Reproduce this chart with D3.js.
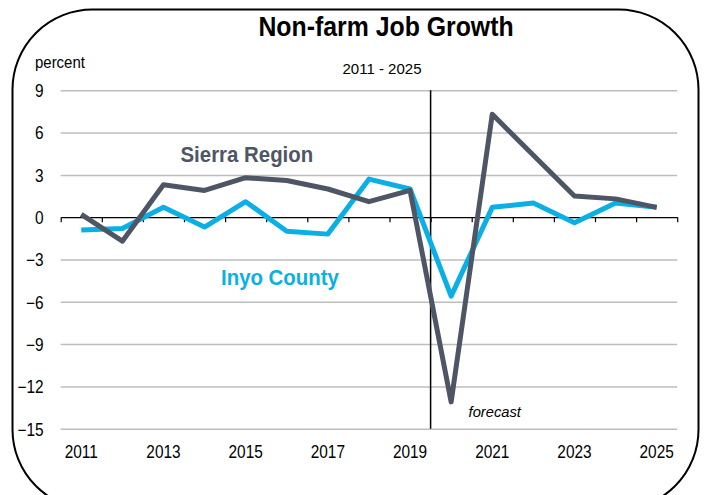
<!DOCTYPE html>
<html>
<head>
<meta charset="utf-8">
<script src="https://cdn.jsdelivr.net/npm/d3@7"></script>
<style>
  body { margin: 0; background: #fff; }
  svg { display: block; font-family: "Liberation Sans", Arial, sans-serif; }
</style>
</head>
<body>
<div id="chart"></div>
<script>
// data
var years = [2011, 2012, 2013, 2014, 2015, 2016, 2017, 2018, 2019, 2020, 2021, 2022, 2023, 2024, 2025];
var sierra = [0.2, -1.7, 2.3, 1.9, 2.8, 2.6, 2.0, 1.1, 1.9, -13.1, 7.3, 4.4, 1.5, 1.3, 0.7];
var inyo = [-0.9, -0.8, 0.7, -0.7, 1.1, -1.0, -1.2, 2.7, 2.0, -5.6, 0.7, 1.0, -0.4, 1.0, 0.7];
var yTicks = [9, 6, 3, 0, -3, -6, -9, -12, -15];
var xLabels = [2011, 2013, 2015, 2017, 2019, 2021, 2023, 2025];
var forecastFrom = 2020;

var W = 708, H = 495;
var margin = {top: 90.3, right: 30.8, bottom: 66.3, left: 60.7},
    width = W - margin.left - margin.right,
    height = H - margin.top - margin.bottom;

var svgRoot = d3.select("#chart")
  .append("svg")
    .attr("width", W)
    .attr("height", H);

// rounded frame
svgRoot.append("rect")
  .attr("x", 12.5)
  .attr("y", 9.5)
  .attr("width", 686)
  .attr("height", 500)
  .attr("rx", 80)
  .attr("ry", 80)
  .attr("fill", "none")
  .attr("stroke", "#000")
  .attr("stroke-width", 2);

// title + subtitle
svgRoot.append("text")
  .attr("transform", "translate(386,36) scale(0.92,1)")
  .attr("text-anchor", "middle")
  .style("font-size", "27px")
  .style("font-weight", "bold")
  .text("Non-farm Job Growth");

svgRoot.append("text")
  .attr("x", 382)
  .attr("y", 74)
  .attr("text-anchor", "middle")
  .style("font-size", "15px")
  .text("2011 - 2025");

svgRoot.append("text")
  .attr("transform", "translate(35,68) scale(0.88,1)")
  .style("font-size", "17px")
  .text("percent");

var svg = svgRoot.append("g")
  .attr("transform", "translate(" + margin.left + "," + margin.top + ")");

// scales
var x = d3.scaleBand()
  .domain(years)
  .range([0, width])
  .padding(0);

var y = d3.scaleLinear()
  .domain([-15, 9])
  .range([height, 0]);

// gridlines (not at zero, the axis sits there)
svg.append("g")
  .attr("class", "grid")
  .call(d3.axisLeft(y)
    .tickValues(yTicks.filter(function(d) { return d !== 0; }))
    .tickSize(-width)
    .tickFormat("")
  )
  .call(function(g) { g.select(".domain").remove(); });

svg.selectAll(".grid line")
  .style("stroke", "#bdbdbd")
  .style("stroke-width", 1.5);

// y labels
var yAxis = svg.append("g")
  .call(d3.axisLeft(y)
    .tickValues(yTicks)
    .tickSize(0)
    .tickFormat(d3.format("d"))
  );
yAxis.select(".domain").remove();
yAxis.selectAll("text")
  .attr("x", -17.2 / 0.88)
  .attr("dy", "0.36em")
  .attr("transform", "scale(0.88,1)")
  .style("font-size", "17.5px")
  .style("font-family", "'Liberation Sans', Arial, sans-serif")
  .attr("fill", "#000");

// zero axis with ticks at the category boundaries
var xb = d3.scaleLinear()
  .domain([0, years.length])
  .range([0, width]);

var zeroAxis = svg.append("g")
  .attr("transform", "translate(0," + y(0) + ")")
  .call(d3.axisBottom(xb)
    .tickValues(d3.range(years.length + 1))
    .tickSizeInner(5)
    .tickSizeOuter(0)
    .tickFormat("")
  );
zeroAxis.selectAll("line, path")
  .attr("stroke", "#000")
  .attr("stroke-width", 1.2);

// x labels below the plot
var xAxis = svg.append("g")
  .attr("transform", "translate(0," + height + ")")
  .call(d3.axisBottom(x)
    .tickValues(xLabels)
    .tickSize(0)
    .tickPadding(0)
  );
xAxis.select(".domain").remove();
xAxis.selectAll("text")
  .attr("y", 29.5)
  .attr("dy", 0)
  .attr("transform", "scale(0.88,1)")
  .style("font-size", "17.5px")
  .style("font-family", "'Liberation Sans', Arial, sans-serif")
  .attr("fill", "#000");

// forecast divider
svg.append("line")
  .attr("x1", x(forecastFrom))
  .attr("x2", x(forecastFrom))
  .attr("y1", y(9))
  .attr("y2", y(-15))
  .attr("stroke", "#000")
  .attr("stroke-width", 1.5);

svg.append("text")
  .attr("transform", "translate(" + (x(forecastFrom) + 38) + "," + (416.7 - margin.top) + ") scale(0.95,1)")
  .style("font-size", "15.5px")
  .style("font-style", "italic")
  .text("forecast");

// lines
var line = d3.line()
  .x(function(d, i) { return x(years[i]) + x.bandwidth() / 2; })
  .y(function(d) { return y(d); });

svg.append("path")
  .datum(inyo)
  .attr("fill", "none")
  .attr("stroke", "#0aafe6")
  .attr("stroke-width", 5)
  .attr("stroke-linejoin", "round")
  .attr("d", line);

svg.append("path")
  .datum(sierra)
  .attr("fill", "none")
  .attr("stroke", "#4e5665")
  .attr("stroke-width", 5)
  .attr("stroke-linejoin", "round")
  .attr("d", line);

// series labels
svgRoot.append("text")
  .attr("transform", "translate(180.5,162.3) scale(0.95,1)")
  .style("font-size", "21.5px")
  .style("font-weight", "bold")
  .attr("fill", "#4e5665")
  .text("Sierra Region");

svgRoot.append("text")
  .attr("transform", "translate(221,285) scale(0.95,1)")
  .style("font-size", "21.5px")
  .style("font-weight", "bold")
  .attr("fill", "#0aafe6")
  .text("Inyo County");
</script>
</body>
</html>
